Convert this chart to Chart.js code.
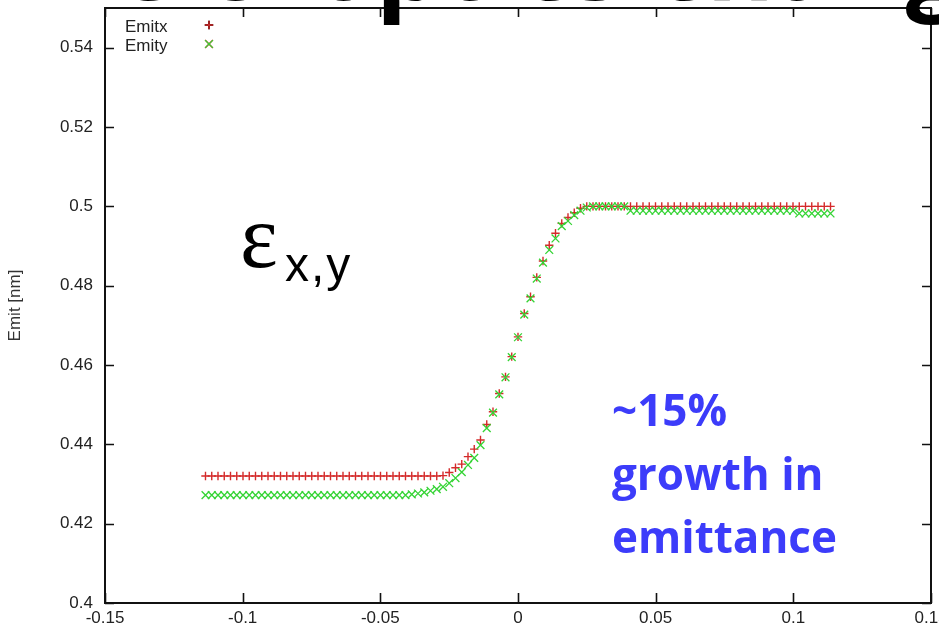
<!DOCTYPE html>
<html>
<head>
<meta charset="utf-8">
<script src="https://cdn.jsdelivr.net/npm/chart.js@4.4.0/dist/chart.umd.min.js"></script>
<style>
  html, body { margin: 0; padding: 0; background: #fff; overflow: hidden; }
  #wrap { position: relative; width: 939px; height: 633px; overflow: hidden; background: #fff; }
  #c { position: absolute; left: 0; top: 0; }
  .ov { position: absolute; white-space: nowrap; }
  #title { left: 114px; top: -92px; font: bold 104px/104px "Open Sans", sans-serif; color: #000; word-spacing: 2px; }
  #eps { left: 240px; top: 192px; font: 90px/90px "Liberation Serif", serif; color: #000; }
  #sub { left: 285px; top: 241px; font: 48px/48px "Liberation Sans", sans-serif; color: #000; letter-spacing: 2px; }
  #note { left: 612px; top: 378px; font: bold 44px/63.5px "Open Sans", sans-serif; color: #3c3cfa; }
</style>
</head>
<body>
<div id="wrap">
  <canvas id="c" width="960" height="633"></canvas>
  <div class="ov" id="title">e &amp; optics change</div>
  <div class="ov" id="eps">ε</div>
  <div class="ov" id="sub">x,y</div>
  <div class="ov" id="note">~15%<br>growth in<br>emittance</div>
</div>
<script>
// ---- data ----
const seriesNames = ['Emitx', 'Emity'];
const yAxisTitle = 'Emit [nm]';
const xTicks = [-0.15, -0.1, -0.05, 0, 0.05, 0.1, 0.15];
const yTicks = [0.4, 0.42, 0.44, 0.46, 0.48, 0.5, 0.52, 0.54];

const xValues = [
  -0.1135, -0.11123, -0.10896, -0.10669, -0.10442, -0.10215, -0.09988, -0.09761, -0.09534, -0.09307,
  -0.0908, -0.08853, -0.08626, -0.08399, -0.08172, -0.07945, -0.07718, -0.07491, -0.07264, -0.07037,
  -0.0681, -0.06583, -0.06356, -0.06129, -0.05902, -0.05675, -0.05448, -0.05221, -0.04994, -0.04767,
  -0.0454, -0.04313, -0.04086, -0.03859, -0.03632, -0.03405, -0.03178, -0.02951, -0.02724, -0.02497,
  -0.0227, -0.02043, -0.01816, -0.01589, -0.01362, -0.01135, -0.00908, -0.00681, -0.00454, -0.00227,
  0,
  0.00227, 0.00454, 0.00681, 0.00908, 0.01135, 0.01362, 0.01589, 0.01816, 0.02043, 0.0227,
  0.02497, 0.02724, 0.02951, 0.03178, 0.03405, 0.03632, 0.03859, 0.04086, 0.04313, 0.0454,
  0.04767, 0.04994, 0.05221, 0.05448, 0.05675, 0.05902, 0.06129, 0.06356, 0.06583, 0.0681,
  0.07037, 0.07264, 0.07491, 0.07718, 0.07945, 0.08172, 0.08399, 0.08626, 0.08853, 0.0908,
  0.09307, 0.09534, 0.09761, 0.09988, 0.10215, 0.10442, 0.10669, 0.10896, 0.11123, 0.1135
];

const emitx = [
  0.432, 0.432, 0.432, 0.432, 0.432, 0.432, 0.432, 0.432, 0.432, 0.432,
  0.432, 0.432, 0.432, 0.432, 0.432, 0.432, 0.432, 0.432, 0.432, 0.432,
  0.432, 0.432, 0.432, 0.432, 0.432, 0.432, 0.432, 0.432, 0.432, 0.432,
  0.432, 0.432, 0.432, 0.432, 0.432, 0.432, 0.432, 0.432, 0.4321, 0.4329,
  0.4341, 0.435, 0.4369, 0.4388, 0.4411, 0.445, 0.4482, 0.4528, 0.457, 0.4621,
  0.4671,
  0.473, 0.4772, 0.4821, 0.4862, 0.4902, 0.4932, 0.4957, 0.4972, 0.4984, 0.4995,
  0.5, 0.5, 0.5, 0.5, 0.5, 0.5, 0.5, 0.5, 0.5, 0.5,
  0.5, 0.5, 0.5, 0.5, 0.5, 0.5, 0.5, 0.5, 0.5, 0.5,
  0.5, 0.5, 0.5, 0.5, 0.5, 0.5, 0.5, 0.5, 0.5, 0.5,
  0.5, 0.5, 0.5, 0.5, 0.5, 0.5, 0.5, 0.5, 0.5, 0.5
];

const emity = [
  0.4272, 0.4272, 0.4272, 0.4272, 0.4272, 0.4272, 0.4272, 0.4272, 0.4272, 0.4272,
  0.4272, 0.4272, 0.4272, 0.4272, 0.4272, 0.4272, 0.4272, 0.4272, 0.4272, 0.4272,
  0.4272, 0.4272, 0.4272, 0.4272, 0.4272, 0.4272, 0.4272, 0.4272, 0.4272, 0.4272,
  0.4272, 0.4272, 0.4272, 0.4274, 0.4276, 0.4279, 0.4283, 0.4287, 0.4293, 0.4302,
  0.4315, 0.433, 0.4348, 0.4366, 0.4398, 0.4441, 0.448, 0.4526, 0.4569, 0.462,
  0.467,
  0.4727, 0.4768, 0.4818, 0.4858, 0.489, 0.4919, 0.495, 0.4963, 0.4978, 0.4989,
  0.4997, 0.5, 0.5, 0.5, 0.5, 0.5, 0.5, 0.4989, 0.4989, 0.4989,
  0.4989, 0.4989, 0.4989, 0.4989, 0.4989, 0.4989, 0.4989, 0.4989, 0.4989, 0.4989,
  0.4989, 0.4989, 0.4989, 0.4989, 0.4989, 0.4989, 0.4989, 0.4989, 0.4989, 0.4989,
  0.4989, 0.4989, 0.4989, 0.4989, 0.4982, 0.4982, 0.4982, 0.4982, 0.4982, 0.4982
];

// ---- styling ----
const RED = '#d42a2a';
const GREEN = '#35d435';
const AXIS_FONT = { family: '"Liberation Sans", Arial, sans-serif', size: 17 };

const framePlugin = {
  id: 'frame',
  afterDatasetsDraw(chart) {
    const { ctx, chartArea: a, scales: { x, y } } = chart;
    ctx.save();
    ctx.strokeStyle = '#111';
    ctx.lineWidth = 1.6;
    ctx.beginPath();
    yTicks.forEach(v => {
      const py = Math.round(y.getPixelForValue(v)) + 0.5;
      ctx.moveTo(a.left, py); ctx.lineTo(a.left + 9, py);
      ctx.moveTo(a.right, py); ctx.lineTo(a.right - 9, py);
    });
    xTicks.forEach(v => {
      const px = Math.round(x.getPixelForValue(v)) + 0.5;
      ctx.moveTo(px, a.bottom); ctx.lineTo(px, a.bottom - 10);
      ctx.moveTo(px, a.top); ctx.lineTo(px, a.top + 9);
    });
    ctx.stroke();
    ctx.lineWidth = 2;
    ctx.strokeRect(a.left, a.top, a.right - a.left, a.bottom - a.top);

    // legend (text then marker, gnuplot style)
    ctx.font = '17px "Liberation Sans", Arial, sans-serif';
    ctx.fillStyle = '#222';
    ctx.textBaseline = 'alphabetic';
    ctx.textAlign = 'left';
    const lx = a.left + 20, mx = a.left + 104;
    const rows = [a.top + 24, a.top + 43];
    seriesNames.forEach((name, i) => {
      ctx.fillText(name, lx, rows[i]);
      const cy = rows[i] - 7;
      const ds = chart.data.datasets.find(d => d.label === name);
      Chart.helpers.drawPoint(ctx, {
        pointStyle: ds.pointStyle, radius: ds.pointRadius, rotation: 0, borderWidth: ds.borderWidth
      }, mx, cy);
      ctx.strokeStyle = ds.borderColor;
      ctx.lineWidth = ds.borderWidth;
      ctx.stroke();
    });
    ctx.restore();
  }
};

const toPoints = (ys) => xValues.map((xv, i) => ({ x: xv, y: ys[i] }));

new Chart(document.getElementById('c'), {
  type: 'scatter',
  data: {
    datasets: [
      { label: seriesNames[1], data: toPoints(emity), pointStyle: 'crossRot', pointRadius: 5.5,
        borderColor: GREEN, backgroundColor: GREEN, borderWidth: 1.3, order: 0 },
      { label: seriesNames[0], data: toPoints(emitx), pointStyle: 'cross', pointRadius: 4.2,
        borderColor: RED, backgroundColor: RED, borderWidth: 1.4, order: 1 }
    ]
  },
  options: {
    responsive: false,
    animation: false,
    events: [],
    layout: { padding: { top: 8, right: 29, left: 0, bottom: 0 } },
    plugins: { legend: { display: false }, tooltip: { enabled: false } },
    scales: {
      x: {
        type: 'linear', min: -0.15, max: 0.15,
        afterBuildTicks: s => { s.ticks = xTicks.map(v => ({ value: v })); },
        afterFit: s => { s.height = 30; s.paddingLeft = 0; s.paddingRight = 0; },
        ticks: { autoSkip: false, maxRotation: 0, padding: 5, color: '#222', font: AXIS_FONT,
                 callback: v => String(v) },
        grid: { display: false, drawTicks: false },
        border: { display: false }
      },
      y: {
        type: 'linear', min: 0.4, max: 0.55,
        afterBuildTicks: s => { s.ticks = yTicks.map(v => ({ value: v })); },
        afterFit: s => { s.width = 105; s.paddingTop = 0; s.paddingBottom = 0; },
        ticks: { autoSkip: false, padding: 12, color: '#222', font: AXIS_FONT,
                 callback: v => String(v) },
        title: { display: true, text: yAxisTitle, color: '#333', padding: { top: 5, bottom: 0 },
                 font: { family: '"Liberation Sans", Arial, sans-serif', size: 17 } },
        grid: { display: false, drawTicks: false },
        border: { display: false }
      }
    }
  },
  plugins: [framePlugin]
});
</script>
</body>
</html>
